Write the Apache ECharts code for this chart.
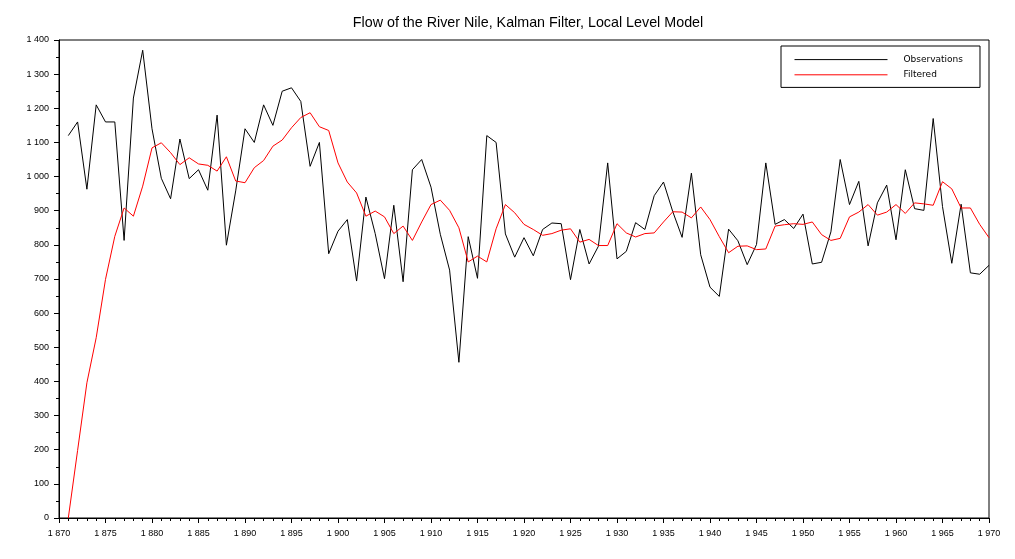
<!DOCTYPE html>
<html>
<head>
<meta charset="utf-8">
<script src="https://cdn.jsdelivr.net/npm/echarts@6/dist/echarts.min.js"></script>
<style>
  html, body { margin: 0; padding: 0; background: #fff; }
  #chart { width: 1015px; height: 559px; }
</style>
</head>
<body>
<div id="chart"></div>
<script>
// annual flow of the Nile at Aswan, 1871-1970
const firstYear = 1871
const observations = [
  1120, 1160, 963, 1210, 1160, 1160, 813, 1230, 1370, 1140,
  995, 935, 1110, 994, 1020, 960, 1180, 799, 958, 1140,
  1100, 1210, 1150, 1250, 1260, 1220, 1030, 1100, 774, 840,
  874, 694, 940, 833, 701, 916, 692, 1020, 1050, 969,
  831, 726, 456, 824, 702, 1120, 1100, 832, 764, 821,
  768, 845, 864, 862, 698, 845, 744, 796, 1040, 759,
  781, 865, 845, 944, 984, 897, 822, 1010, 771, 676,
  649, 846, 812, 742, 801, 1040, 860, 874, 848, 890,
  744, 749, 838, 1050, 918, 986, 797, 923, 975, 815,
  1020, 906, 901, 1170, 912, 746, 919, 718, 714, 740
]
// filtered level
const filtered = [
  0, 198, 396, 528, 699, 825, 908, 884, 972, 1084,
  1099, 1070, 1035, 1055, 1037, 1033, 1016, 1058, 987, 982,
  1026, 1047, 1089, 1107, 1143, 1173, 1187, 1146, 1135, 1040,
  984, 952, 884, 899, 882, 833, 855, 813, 867, 918,
  931, 901, 850, 750, 767, 750, 847, 918, 894, 860,
  845, 828, 833, 843, 847, 808, 816, 798, 798, 862,
  835, 823, 833, 835, 867, 897, 896, 879, 911, 874,
  824, 777, 796, 797, 786, 788, 855, 859, 862, 860,
  867, 830, 813, 819, 882, 896, 918, 887, 896, 918,
  892, 923, 920, 916, 985, 964, 908, 908, 860, 821
]
const seriesNames = ['Observations', 'Filtered']

const pairs = (vals) => vals.map((v, i) => [firstYear + i, v])
// "1 400" style: space as thousands separator
const spaced = (v) => String(v).replace(/\B(?=(\d{3})+(?!\d))/g, ' ')

const chart = echarts.init(document.getElementById('chart'))
const tickLabel = { color: '#000', fontSize: 9, fontFamily: 'Liberation Sans, Arial, sans-serif' }

chart.setOption({
  animation: false,
  backgroundColor: '#fff',
  title: {
    text: 'Flow of the River Nile, Kalman Filter, Local Level Model',
    left: 523,
    textAlign: 'center',
    top: 11,
    textStyle: { color: '#000', fontSize: 14.3, fontWeight: 'normal', fontFamily: 'Liberation Sans, Arial, sans-serif' }
  },
  grid: {
    left: 59, right: 26, top: 40, bottom: 41,
    show: true, borderColor: '#000', borderWidth: 1
  },
  legend: {
    data: seriesNames,
    orient: 'vertical',
    left: 781, top: 46,
    padding: [8, 17, 7, 13],
    itemGap: 4,
    itemWidth: 93, itemHeight: 14,
    itemStyle: { opacity: 0 },
    lineStyle: { width: 1 },
    backgroundColor: '#fff',
    borderColor: '#000', borderWidth: 1,
    textStyle: { color: '#000', fontSize: 9, fontFamily: 'DejaVu Sans, sans-serif', width: 59, padding: [0, 0, 0, 11] }
  },
  xAxis: {
    type: 'value',
    min: 1870, max: 1970, interval: 5,
    axisLine: { lineStyle: { color: '#000', width: 1 } },
    axisTick: { length: 5, lineStyle: { color: '#000' } },
    minorTick: { show: true, splitNumber: 5, length: 3, lineStyle: { color: '#000' } },
    splitLine: { show: false },
    axisLabel: Object.assign({ margin: 11, formatter: spaced }, tickLabel)
  },
  yAxis: {
    type: 'value',
    min: 0, max: 1400, interval: 100,
    axisLine: { show: true, lineStyle: { color: '#000', width: 1 } },
    axisTick: { show: true, length: 5, lineStyle: { color: '#000' } },
    minorTick: { show: true, splitNumber: 2, length: 3, lineStyle: { color: '#000' } },
    splitLine: { show: false },
    axisLabel: Object.assign({ margin: 10, formatter: spaced }, tickLabel)
  },
  series: [
    {
      name: seriesNames[0],
      type: 'line',
      data: pairs(observations),
      symbol: 'none',
      lineStyle: { color: '#000', width: 1 },
      itemStyle: { color: '#000' }
    },
    {
      name: seriesNames[1],
      type: 'line',
      data: pairs(filtered),
      symbol: 'none',
      lineStyle: { color: '#ff0000', width: 1 },
      itemStyle: { color: '#ff0000' }
    }
  ]
})
</script>
</body>
</html>
